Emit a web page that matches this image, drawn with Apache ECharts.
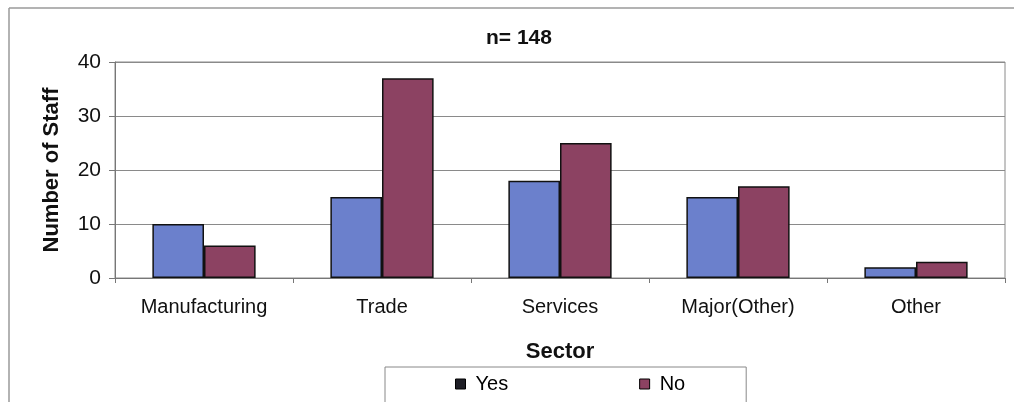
<!DOCTYPE html>
<html>
<head>
<meta charset="utf-8">
<script src="https://cdn.jsdelivr.net/npm/echarts@6/dist/echarts.min.js"></script>
<style>
  html, body { margin: 0; padding: 0; background: #fff; }
  #chart { width: 1014px; height: 402px; }
</style>
</head>
<body>
<div id="chart"></div>
<script>
// Staff counts per sector, split by Yes / No answers
const sectors = ['Manufacturing', 'Trade', 'Services', 'Major(Other)', 'Other'];
const yesValues = [10, 15, 18, 15, 2];
const noValues = [6, 37, 25, 17, 3];
const yTicks = [0, 10, 20, 30, 40];

const FONT = '"Liberation Sans", Arial, sans-serif';
const total = yesValues.concat(noValues).reduce((a, b) => a + b, 0);

const chart = echarts.init(document.getElementById('chart'), null, { renderer: 'canvas' });

chart.setOption({
  animation: false,
  backgroundColor: '#ffffff',
  textStyle: { fontFamily: FONT, color: '#000' },
  title: {
    text: 'n= ' + total,
    left: 514,
    textAlign: 'center',
    top: 23,
    textStyle: { fontFamily: FONT, fontSize: 21, fontWeight: 'bold', color: '#111' }
  },
  graphic: [
    { type: 'line', shape: { x1: 9, y1: 8, x2: 1014, y2: 8 }, style: { stroke: '#9a9a9a', lineWidth: 1.5 } },
    { type: 'line', shape: { x1: 9, y1: 8, x2: 9, y2: 402 }, style: { stroke: '#9a9a9a', lineWidth: 1.5 } }
  ],
  legend: {
    left: 385,
    top: 367,
    orient: 'horizontal',
    data: [
      { name: 'Yes', itemStyle: { color: '#1e1e26' } },
      { name: 'No' }
    ],
    icon: 'rect',
    itemWidth: 10,
    itemHeight: 10,
    itemGap: 131,
    padding: [7, 61, 30, 70],
    borderColor: '#888',
    borderWidth: 1,
    textStyle: { fontFamily: FONT, fontSize: 20, color: '#000', padding: [0, 0, 0, 5] },
    itemStyle: { borderColor: '#000', borderWidth: 1 }
  },
  grid: {
    left: 115,
    right: 9,
    top: 62,
    height: 216,
    show: true,
    borderColor: '#8a8a8a',
    borderWidth: 1,
    containLabel: false
  },
  xAxis: {
    type: 'category',
    data: sectors,
    name: 'Sector',
    nameLocation: 'middle',
    nameGap: 63,
    nameTextStyle: { fontFamily: FONT, fontSize: 22, fontWeight: 'bold', color: '#111', verticalAlign: 'top' },
    axisLine: { lineStyle: { color: '#777', width: 1 } },
    axisTick: { show: true, alignWithLabel: false, length: 5, lineStyle: { color: '#777' } },
    axisLabel: { fontFamily: FONT, fontSize: 20, color: '#111', margin: 19 }
  },
  yAxis: {
    type: 'value',
    min: yTicks[0],
    max: yTicks[yTicks.length - 1],
    interval: yTicks[1] - yTicks[0],
    name: 'Number of Staff',
    nameLocation: 'middle',
    nameGap: 52,
    nameRotate: 90,
    nameTextStyle: { fontFamily: FONT, fontSize: 22, fontWeight: 'bold', color: '#111' },
    axisLine: { show: true, lineStyle: { color: '#777', width: 1 } },
    axisTick: { show: true, length: 6, lineStyle: { color: '#777' } },
    axisLabel: { fontFamily: FONT, fontSize: 21, color: '#111', margin: 14 },
    splitLine: { show: true, lineStyle: { color: '#8a8a8a', width: 1 } }
  },
  series: [
    {
      name: 'Yes',
      type: 'bar',
      data: yesValues,
      barGap: '0%',
      barCategoryGap: '42%',
      itemStyle: { color: '#6b80cc', borderColor: '#111', borderWidth: 1.5 }
    },
    {
      name: 'No',
      type: 'bar',
      data: noValues,
      barGap: '0%',
      barCategoryGap: '42%',
      itemStyle: { color: '#8c4262', borderColor: '#111', borderWidth: 1.5 }
    }
  ]
});
</script>
</body>
</html>
